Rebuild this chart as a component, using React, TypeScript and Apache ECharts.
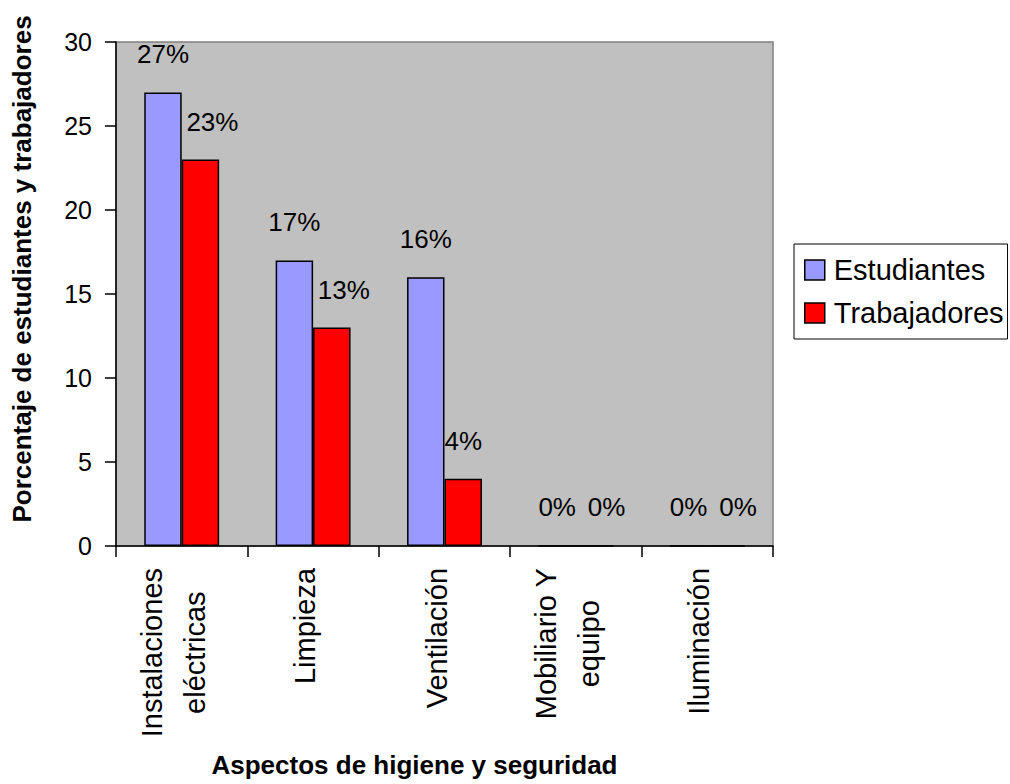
import React, { useEffect, useRef } from "react";
import * as echarts from "echarts";

const categories = [
  "Instalaciones\neléctricas",
  "Limpieza",
  "Ventilación",
  "Mobiliario Y\nequipo",
  "Iluminación",
];
const seriesNames = ["Estudiantes", "Trabajadores"];
const estudiantes = [27, 17, 16, 0, 0];
const trabajadores = [23, 13, 4, 0, 0];
const yMin = 0;
const yMax = 30;
const yStep = 5;
const xTitle = "Aspectos de higiene y seguridad";
const yTitle = "Porcentaje de estudiantes y trabajadores";

const FONT = "'Liberation Sans', Arial, Helvetica, sans-serif";

export default function App() {
  const ref = useRef<HTMLDivElement>(null);
  useEffect(() => {
    if (!ref.current) return;
    const chart = echarts.init(ref.current, null, { renderer: "svg" });
    const labelBase = {
      show: true,
      position: "top",
      distance: 25,
      formatter: "{c}%",
      fontSize: 26,
      color: "#000",
      fontFamily: FONT,
    };
    const option: any = {
      animation: false,
      backgroundColor: "#ffffff",
      textStyle: { fontFamily: FONT },
      grid: {
        left: 116,
        top: 42,
        right: 237,
        bottom: 238,
        show: true,
        backgroundColor: "#C0C0C0",
        borderColor: "#808080",
        borderWidth: 1.5,
      },
      legend: {
        orient: "vertical",
        left: 794,
        top: 244,
        padding: [11, 4, 11, 10],
        itemGap: 13,
        itemWidth: 20,
        itemHeight: 20,
        borderColor: "#000",
        borderWidth: 1,
        borderRadius: 0,
        icon: "rect",
        itemStyle: { borderColor: "#000", borderWidth: 1.5 },
        textStyle: {
          fontFamily: FONT,
          fontSize: 29,
          color: "#000",
          lineHeight: 30,
          padding: [0, 0, 0, 4],
        },
        data: seriesNames,
      },
      xAxis: {
        type: "category",
        data: categories,
        name: xTitle,
        nameLocation: "middle",
        nameGap: 206,
        nameTextStyle: {
          fontFamily: FONT,
          fontSize: 26,
          fontWeight: "bold",
          color: "#000",
          padding: [0, 60, 0, 0],
        },
        axisLine: { lineStyle: { color: "#000", width: 1.5 } },
        axisTick: {
          show: true,
          length: 11,
          lineStyle: { color: "#000", width: 1.5 },
        },
        axisLabel: {
          interval: 0,
          rotate: 90,
          margin: 22,
          padding: [0, 0, 16, 0],
          formatter: (v: string) =>
            v
              .split("\n")
              .map((s) => `{c|${s}}`)
              .join("\n"),
          rich: {
            c: {
              align: "center",
              fontSize: 29,
              lineHeight: 43,
              fontFamily: FONT,
              color: "#000",
            },
          },
        },
        splitLine: { show: false },
      },
      yAxis: {
        type: "value",
        min: yMin,
        max: yMax,
        interval: yStep,
        name: yTitle,
        nameLocation: "middle",
        nameGap: 81,
        nameTextStyle: {
          fontFamily: FONT,
          fontSize: 26,
          fontWeight: "bold",
          color: "#000",
          padding: [0, 0, 0, 50],
        },
        axisLine: { show: true, lineStyle: { color: "#000", width: 1.5 } },
        axisTick: {
          show: true,
          length: 11,
          lineStyle: { color: "#000", width: 1.5 },
        },
        axisLabel: { fontSize: 25, color: "#000", margin: 24, fontFamily: FONT },
        splitLine: { show: false },
      },
      series: [
        {
          name: seriesNames[0],
          type: "bar",
          data: estudiantes,
          barGap: "0%",
          barCategoryGap: "43%",
          itemStyle: { color: "#9999FF", borderColor: "#000", borderWidth: 1.5 },
          label: labelBase,
        },
        {
          name: seriesNames[1],
          type: "bar",
          data: trabajadores.map((v, i) => ({
            value: v,
            label: { offset: i === 2 ? [0, 0] : [12, 0] },
          })),
          barGap: "0%",
          barCategoryGap: "43%",
          itemStyle: { color: "#FF0000", borderColor: "#000", borderWidth: 1.5 },
          label: labelBase,
        },
      ],
    };
    chart.setOption(option);
    return () => chart.dispose();
  }, []);
  return (
    <div
      ref={ref}
      style={{ position: "absolute", left: 0, top: 0, width: 1010, height: 784 }}
    />
  );
}
